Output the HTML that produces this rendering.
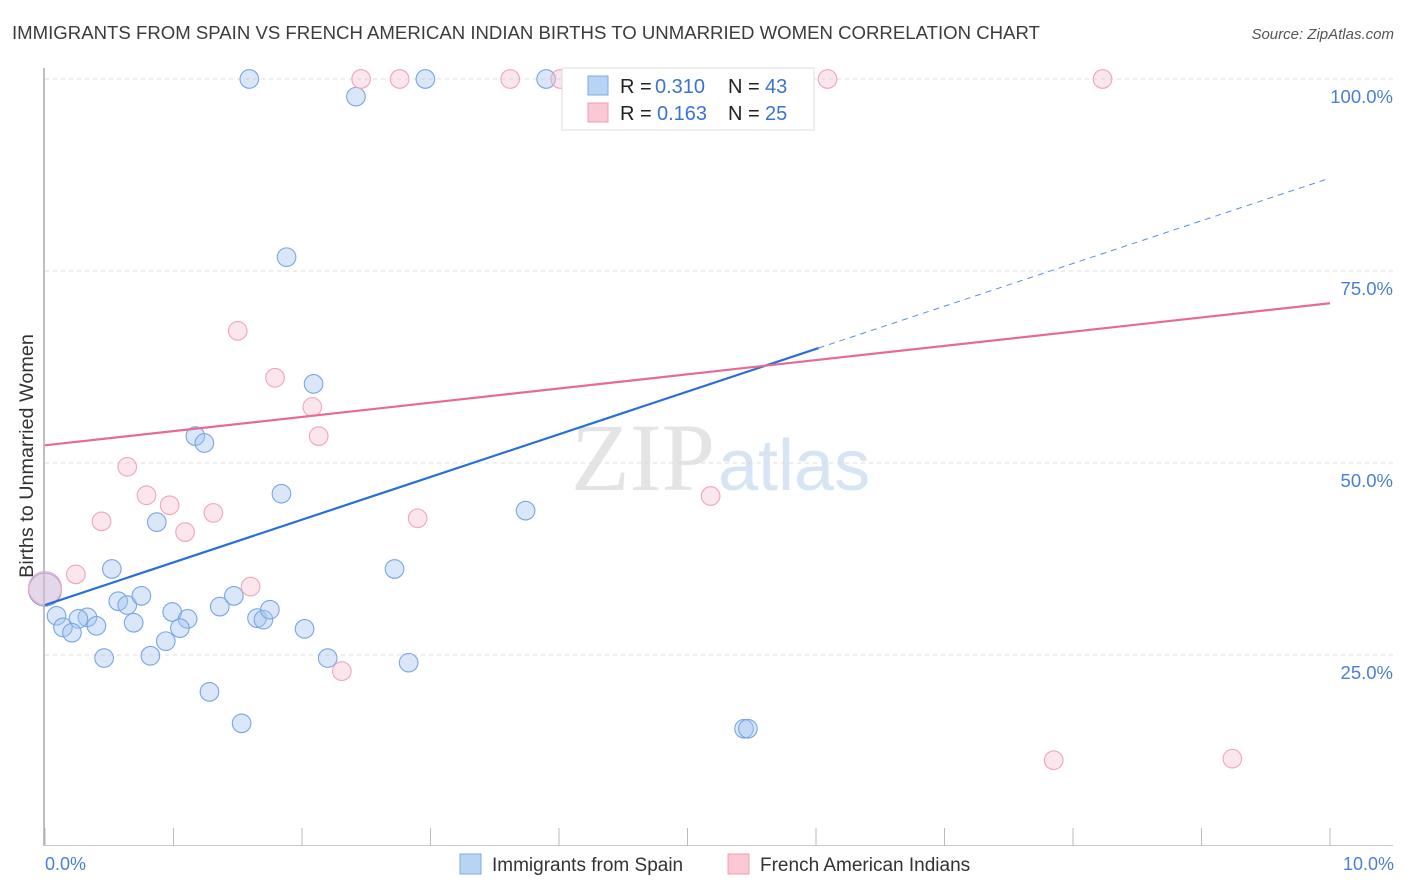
<!DOCTYPE html>
<html><head><meta charset="utf-8"><style>
body{margin:0;background:#fff;font-family:"Liberation Sans",sans-serif}
svg{display:block}
</style></head><body>
<svg width="1406" height="892">
<text x="12" y="39" font-size="18.6" fill="#3c3c3c">IMMIGRANTS FROM SPAIN VS FRENCH AMERICAN INDIAN BIRTHS TO UNMARRIED WOMEN CORRELATION CHART</text>
<text x="1394" y="39" font-size="15" fill="#555" font-style="italic" text-anchor="end">Source: ZipAtlas.com</text>
<text x="715" y="490" font-size="96" fill="#e4e4e4" font-family="Liberation Serif" text-anchor="end">ZIP</text>
<text x="718" y="490" font-size="72" fill="#d6e4f4">atlas</text>
<g id="grid"></g>
<line x1="44" y1="68" x2="44" y2="846" stroke="#aaa" stroke-width="1.5"/>
<line x1="44" y1="845.5" x2="1393" y2="845.5" stroke="#ccc" stroke-width="1"/>
<g id="ticks"></g>
<g id="pts"></g>
<g id="trends"></g>
<text x="33" y="456" font-size="19.8" fill="#333" text-anchor="middle" transform="rotate(-90 33 456)">Births to Unmarried Women</text>
<text x="45" y="870" font-size="18" fill="#4a7fd4">0.0%</text>
<text x="1394" y="870" font-size="18" fill="#4a7fd4" text-anchor="end">10.0%</text>
<g>
<rect x="562" y="68" width="252" height="62" fill="#fff" stroke="#ddd"/>
<rect x="588" y="76" width="20" height="19" fill="#b9d3f5" stroke="#7ea9e6"/>
<rect x="588" y="103" width="20" height="19" fill="#fbc8d6" stroke="#f09cb4"/>
<text x="620" y="93" font-size="20" fill="#222">R =</text>
<text x="655" y="93" font-size="20" fill="#3b73d1">0.310</text>
<text x="728" y="93" font-size="20" fill="#222">N =</text>
<text x="765" y="93" font-size="20" fill="#3b73d1">43</text>
<text x="620" y="120" font-size="20" fill="#222">R =</text>
<text x="657" y="120" font-size="20" fill="#3b73d1">0.163</text>
<text x="728" y="120" font-size="20" fill="#222">N =</text>
<text x="765" y="120" font-size="20" fill="#3b73d1">25</text>
</g>
<g>
<rect x="460" y="854" width="21" height="20" fill="#b9d3f5" stroke="#7ea9e6"/>
<text x="492" y="871" font-size="19" fill="#333">Immigrants from Spain</text>
<rect x="728" y="854" width="21" height="20" fill="#fbc8d6" stroke="#f09cb4"/>
<text x="760" y="871" font-size="19" fill="#333">French American Indians</text>
</g>
</svg>
<script>
const yTicks=[100,75,50,25];
const yTickLabels=["100.0%","75.0%","50.0%","25.0%"];
const xTicks=[0,1,2,3,4,5,6,7,8,9,10];
const blueX=[1.59,2.42,2.96,3.90,4.61,1.88,2.09,1.17,1.24,1.84,0.87,3.74,0.52,2.72,0.57,0.64,0.75,0.09,0.33,0.26,0.14,0.21,0.40,0.69,0.99,1.11,1.05,0.94,1.36,1.47,1.65,1.70,1.75,2.02,0.46,0.82,2.20,2.83,1.28,1.53,5.44,5.47,0.0];
const blueY=[100,97.7,100,100,100,76.8,60.3,53.5,52.6,46.0,42.3,43.8,36.2,36.2,32.0,31.5,32.7,30.1,29.9,29.7,28.6,27.9,28.8,29.2,30.6,29.7,28.5,26.8,31.3,32.7,29.8,29.6,30.9,28.4,24.6,24.9,24.6,24.0,20.2,16.1,15.4,15.4,33.5];
const pinkX=[2.46,2.76,3.62,4.01,5.74,6.09,8.23,1.50,1.79,2.08,2.13,0.64,0.79,0.97,0.44,1.31,1.09,2.90,5.18,0.24,1.60,2.31,7.85,9.24,0.0];
const pinkY=[100,100,100,100,100,100,100,67.2,61.1,57.3,53.5,49.5,45.8,44.5,42.4,43.5,41.0,42.8,45.7,35.5,33.9,22.9,11.3,11.5,33.7];
const blueTrend=[31.5,87.1]; const blueSolidEnd=6.02;
const pinkTrend=[52.3,70.8];
const sx=v=>45+v*128.5, sy=v=>847-v*7.68;
const NS="http://www.w3.org/2000/svg";
function mk(p,t,a){const e=document.createElementNS(NS,t);for(const k in a)e.setAttribute(k,a[k]);document.getElementById(p).appendChild(e);return e;}
yTicks.forEach((v,i)=>{
 const l=mk('grid','line',{x1:45,x2:1393,y1:sy(v),y2:sy(v),stroke:'#ddd','stroke-dasharray':'4,4'});
 
 
 const t=mk('grid','text',{x:1393,y:sy(v)+24,'font-size':18.5,fill:'#4a7fd4','text-anchor':'end'});
 t.textContent=yTickLabels[i];
 
 
});
xTicks.forEach(v=>{
 const l=mk('ticks','line',{x1:sx(v),x2:sx(v),y1:828,y2:846,stroke:'#bbb'});
 
 
});
function pts(X,Y,fill,stroke,name){
 X.forEach((x,i)=>{
  const big=x===0;
  const c=mk('pts','circle',{cx:sx(x),cy:sy(Y[i]),r:big?16.5:9.3,fill:fill,stroke:stroke,'stroke-width':1.1});
  
  
 });
}
pts(blueX,blueY,'rgba(165,198,240,0.42)','#7aa6e3','point-spain');
pts(pinkX,pinkY,'rgba(248,188,207,0.38)','#f0a5bb','point-french');
const b1=mk('trends','line',{x1:sx(0),y1:sy(blueTrend[0]),x2:sx(blueSolidEnd),y2:sy(blueTrend[0]+(blueTrend[1]-blueTrend[0])*blueSolidEnd/10),stroke:'#2a6fd6','stroke-width':2.2});


const b2=mk('trends','line',{x1:sx(blueSolidEnd),y1:sy(blueTrend[0]+(blueTrend[1]-blueTrend[0])*blueSolidEnd/10),x2:sx(10),y2:sy(blueTrend[1]),stroke:'#5a8fe0','stroke-width':1,'stroke-dasharray':'6,5'});


const p1=mk('trends','line',{x1:sx(0),y1:sy(pinkTrend[0]),x2:sx(10),y2:sy(pinkTrend[1]),stroke:'#e56b95','stroke-width':2.2});


</script>
</body></html>
